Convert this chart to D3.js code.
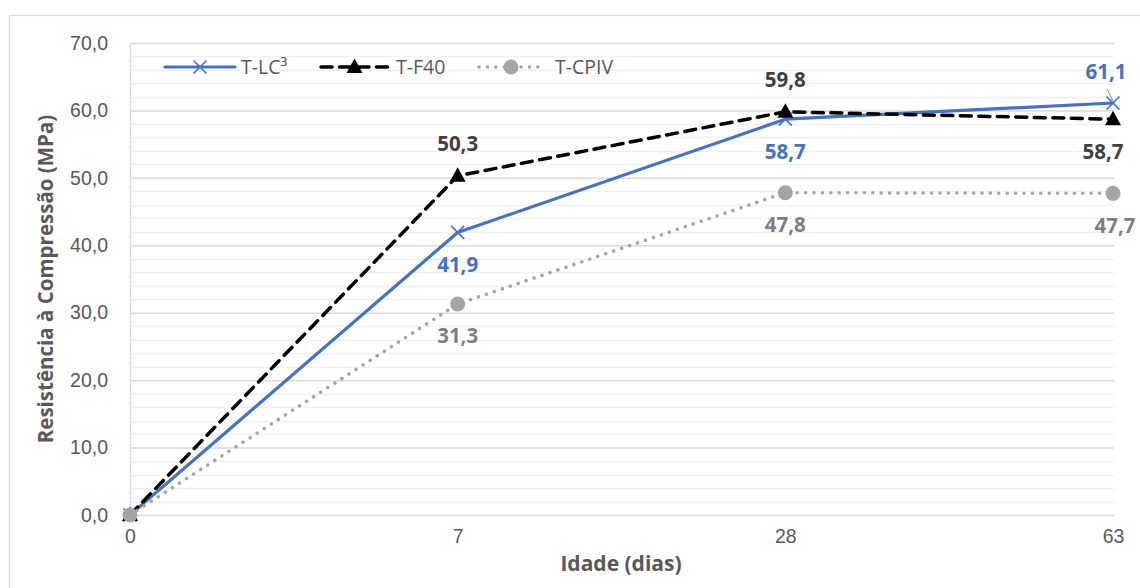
<!DOCTYPE html>
<html>
<head>
<meta charset="utf-8">
<script src="https://cdn.jsdelivr.net/npm/d3@7/dist/d3.min.js"></script>
<style>
  html, body { margin: 0; padding: 0; background: #fff; }
  svg { display: block; font-family: "Open Sans", "Noto Sans", sans-serif; }
</style>
</head>
<body>
<svg id="chart" width="1140" height="588"></svg>
<script>
// Compressive strength by age
const ages = ["0", "7", "28", "63"];
const seriesNames = ["T-LC³", "T-F40", "T-CPIV"];
const lc3Values = [0, 41.9, 58.7, 61.1];
const f40Values = [0, 50.3, 59.8, 58.7];
const cpivValues = [0, 31.3, 47.8, 47.7];
const yTicks = [0, 10, 20, 30, 40, 50, 60, 70];
const xTitle = "Idade (dias)";
const yTitle = "Resistência à Compressão (MPa)";

const fmt = v => d3.format(".1f")(v).replace(".", ",");

const svg = d3.select("#chart");
const W = 1140, H = 588;

// outer chart border
svg.append("rect")
  .attr("x", 9.5).attr("y", 15.5)
  .attr("width", W).attr("height", H)
  .attr("fill", "#fff").attr("stroke", "#d9d9d9").attr("stroke-width", 1.3);

const plot = { left: 130, right: 1114, top: 43, bottom: 515 };

const x = d3.scalePoint().domain(ages).range([plot.left, plot.right - 1]);
const y = d3.scaleLinear().domain([0, 70]).range([plot.bottom, plot.top]);

// minor gridlines every 2
const minor = d3.range(0, 71, 2).filter(v => v % 10 !== 0);
svg.append("g").selectAll("line").data(minor).join("line")
  .attr("x1", plot.left).attr("x2", plot.right)
  .attr("y1", d => Math.round(y(d)) + 0.5).attr("y2", d => Math.round(y(d)) + 0.5)
  .attr("stroke", "#f0f0f0").attr("stroke-width", 1.5);

// major gridlines and y axis
const yAxis = d3.axisLeft(y).tickValues(yTicks).tickFormat(fmt)
  .tickSize(-(plot.right - plot.left)).tickPadding(22);
const gy = svg.append("g").attr("transform", `translate(${plot.left},0)`).call(yAxis);
gy.select(".domain").remove();
gy.selectAll(".tick line").attr("stroke", "#d9d9d9").attr("stroke-width", 1.5);
gy.selectAll(".tick text").attr("fill", "#595959").attr("font-size", 19.5);

// vertical axis line
svg.append("line")
  .attr("x1", plot.left + 0.5).attr("x2", plot.left + 0.5)
  .attr("y1", plot.top).attr("y2", plot.bottom)
  .attr("stroke", "#d9d9d9").attr("stroke-width", 1.3);

// x axis labels
const xAxis = d3.axisBottom(x).tickSize(0).tickPadding(14);
const gx = svg.append("g").attr("transform", `translate(0,${plot.bottom})`).call(xAxis);
gx.select(".domain").remove();
gx.selectAll(".tick text").attr("fill", "#595959").attr("font-size", 19.5);

// axis titles
svg.append("text")
  .attr("x", (plot.left + plot.right) / 2 - 1).attr("y", 571)
  .attr("text-anchor", "middle").attr("font-size", 21).attr("font-weight", 700)
  .attr("fill", "#595959").text(xTitle);

svg.append("text")
  .attr("transform", `translate(53,${(plot.top + plot.bottom) / 2}) rotate(-90)`)
  .attr("text-anchor", "middle").attr("font-size", 20.5).attr("font-weight", 700)
  .attr("fill", "#595959").text(yTitle);

const series = [
  { name: seriesNames[0], values: lc3Values, color: "#4472c4", labelColor: "#4472c4",
    dash: null, marker: "cross", labelPos: [0, 1, 1, -1], width: 3.2 },
  { name: seriesNames[1], values: f40Values, color: "#000000", labelColor: "#404040",
    dash: "11,7.5", marker: "triangle", labelPos: [0, -1, -1, 1], width: 3.5 },
  { name: seriesNames[2], values: cpivValues, color: "#a5a5a5", labelColor: "#7f7f7f",
    dash: "0.1,8.3", marker: "circle", labelPos: [0, 1, 1, 1], width: 3.5 }
];

function drawMarker(g, type, color, cx, cy) {
  if (type === "cross") {
    const s = 6.5;
    g.append("path")
      .attr("d", `M${cx - s},${cy - s}L${cx + s},${cy + s}M${cx - s},${cy + s}L${cx + s},${cy - s}`)
      .attr("stroke", color).attr("stroke-width", 1.7).attr("fill", "none");
  } else if (type === "triangle") {
    g.append("path")
      .attr("d", `M${cx},${cy - 8.5}L${cx + 8},${cy + 6}L${cx - 8},${cy + 6}Z`)
      .attr("fill", color);
  } else {
    g.append("circle").attr("cx", cx).attr("cy", cy).attr("r", 7.5).attr("fill", color);
  }
}

const line = d3.line().x((d, i) => x(ages[i])).y(d => y(d));

series.forEach(s => {
  const g = svg.append("g");
  g.append("path").datum(s.values)
    .attr("d", line)
    .attr("fill", "none").attr("stroke", s.color).attr("stroke-width", s.width)
    .attr("stroke-linecap", "round").attr("stroke-linejoin", "round")
    .attr("stroke-dasharray", s.dash);
  s.values.forEach((v, i) => drawMarker(g, s.marker, s.color, x(ages[i]), y(v)));
});

// data labels
const lastShift = { "T-LC³": -7, "T-F40": -10, "T-CPIV": 2 };
series.forEach(s => {
  const g = svg.append("g");
  s.values.forEach((v, i) => {
    if (s.labelPos[i] === 0) return;
    let lx = x(ages[i]);
    if (i === ages.length - 1) lx += lastShift[s.name];
    const ly = y(v) + s.labelPos[i] * 32 + 7.5;
    g.append("text")
      .attr("x", lx).attr("y", ly)
      .attr("text-anchor", "middle").attr("font-size", 20.5).attr("font-weight", 700)
      .attr("fill", s.labelColor).text(fmt(v));
  });
});

// leader line for the relocated label at 63 days
svg.append("line")
  .attr("x1", x("63") - 6).attr("y1", y(lc3Values[3]) - 14)
  .attr("x2", x("63")).attr("y2", y(lc3Values[3]) - 2)
  .attr("stroke", "#a6a6a6").attr("stroke-width", 1.2);

// legend
const legendItems = [
  { s: series[0], x0: 165, x1: 235, tx: 241 },
  { s: series[1], x0: 321, x1: 388, tx: 396 },
  { s: series[2], x0: 479, x1: 543, tx: 555 }
];
const ly = 67;
legendItems.forEach(it => {
  const g = svg.append("g");
  g.append("line")
    .attr("x1", it.x0).attr("x2", it.x1).attr("y1", ly).attr("y2", ly)
    .attr("stroke", it.s.color).attr("stroke-width", it.s.width)
    .attr("stroke-linecap", "round").attr("stroke-dasharray", it.s.dash);
  drawMarker(g, it.s.marker, it.s.color, (it.x0 + it.x1) / 2, ly);
  g.append("text").attr("x", it.tx).attr("y", ly + 7)
    .attr("font-size", 19.5).attr("fill", "#595959").text(it.s.name);
});
</script>
</body>
</html>
